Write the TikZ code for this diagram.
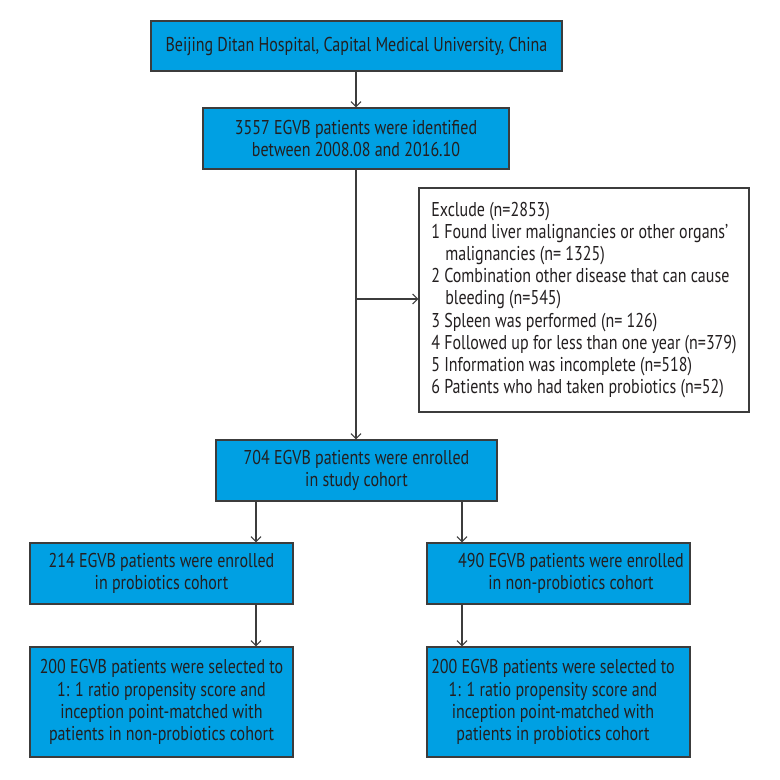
\documentclass[tikz,border=0pt]{standalone}
\usepackage{fontspec}
\setmainfont[FakeStretch=0.80]{PT Sans}
\usetikzlibrary{arrows.meta,calc}
\definecolor{boxblue}{RGB}{0,160,227}
\definecolor{edgegrey}{RGB}{60,60,60}
\definecolor{txtcol}{RGB}{35,31,32}
\begin{document}
\begin{tikzpicture}[x=1pt,y=-1pt,
  every node/.style={font=\fontsize{20}{22.2}\selectfont, text=txtcol},
  bluebox/.style={draw=edgegrey, fill=boxblue, line width=1.2pt, align=center, inner sep=0pt},
  whitebox/.style={draw=edgegrey, fill=white, line width=1.2pt, align=left, inner sep=0pt},
  txt/.style={align=center, inner sep=0pt},
  arr/.style={draw=edgegrey, line width=1.1pt, -{Straight Barb[length=5pt,width=10pt,line width=1.1pt]}},
  ln/.style={draw=edgegrey, line width=1.1pt}]
\useasboundingbox[fill=white] (0,0) rectangle (780,780);

\node[bluebox, minimum width=411pt, minimum height=50pt] (top) at (356.5,46)
  {Beijing Ditan Hospital, Capital Medical University, China};
\node[bluebox, minimum width=306pt, minimum height=61pt] (b3557) at (356,138.5)
  {3557 EGVB patients were identified\\between 2008.08 and 2016.10};
\node[whitebox, minimum width=330pt, minimum height=224pt] (excl) at (584,300)
  {Exclude (n=2853)\\
   1 Found liver malignancies or other organs'\\
   \hspace*{14pt}malignancies (n= 1325)\\
   2 Combination other disease that can cause\\
   \hspace*{14pt}bleeding (n=545)\\
   3 Spleen was performed (n= 126)\\
   4 Followed up for less than one year (n=379)\\
   5 Information was incomplete (n=518)\\
   6 Patients who had taken probiotics (n=52)};
\node[bluebox, minimum width=281pt, minimum height=61pt] (b704) at (356.5,470.5)
  {704 EGVB patients were enrolled\\in study cohort};
\node[bluebox, minimum width=263pt, minimum height=61pt] (b214) at (161.5,573.5)
  {214 EGVB patients were enrolled\\in probiotics cohort};
\node[bluebox, minimum width=263pt, minimum height=61pt] (b490) at (558.5,573.5) {};
\node[txt] (t490) at ([xshift=12.5pt]b490.center)
  {490 EGVB patients were enrolled\\in non-probiotics cohort};
\node[bluebox, minimum width=263pt, minimum height=110pt] (bl) at (161.5,702)
  {200 EGVB patients were selected to\\1: 1 ratio propensity score and\\inception point-matched with\\patients in non-probiotics cohort};
\node[bluebox, minimum width=263pt, minimum height=110pt] (br) at (558.5,702) {};
\node[txt] (tbr) at ([xshift=-5.5pt]br.center)
  {200 EGVB patients were selected to\\1: 1 ratio propensity score and\\inception point-matched with\\patients in probiotics cohort};

\coordinate (split) at (356,299);
\coordinate (xl) at (256,0);
\coordinate (xr) at (462,0);

\draw[arr] (top.south -| b3557) -- (b3557.north);
\draw[arr] (b3557.south) -- (b704.north -| b3557);
\draw[arr] (split) -- (split -| excl.west);
\draw[arr] (b704.south -| xl) -- (b214.north -| xl);
\draw[arr] (b704.south -| xr) -- (b490.north -| xr);
\draw[arr] (b214.south -| xl) -- (bl.north -| xl);
\draw[arr] (b490.south -| xr) -- (br.north -| xr);
\end{tikzpicture}
\end{document}
